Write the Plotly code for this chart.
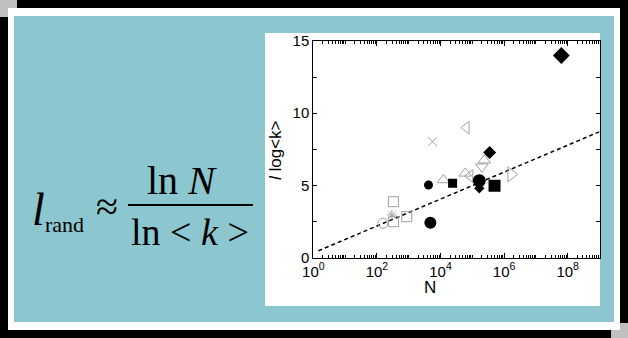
import plotly.graph_objects as go

W, H = 628, 338

# ---------------- data ----------------
line_N = [1.45, 1e9]
line_l = [0.48, 8.72]

blk_diamond_N = [6.3e7, 3.5e5, 1.66e5]
blk_diamond_l = [14.0, 7.29, 4.80]
blk_diamond_s = [13, 10, 8]

blk_circle_N = [4.2e3, 4.8e3, 1.66e5]
blk_circle_l = [5.03, 2.42, 5.33]
blk_circle_s = [9, 12, 13]

blk_square_N = [2.4e4, 5.0e5]
blk_square_l = [5.15, 4.98]
blk_square_s = [9, 12]

gray_series = [
    # (symbol, N list, l list, size)
    ("triangle-left-open", [6.5e4, 8.5e4], [9.0, 5.65], 11),
    ("x-thin-open", [5.6e3], [8.03], 9),
    ("triangle-up-open", [1.23e4, 6.0e4, 2.4e5], [5.38, 5.84, 6.75], 11),
    ("triangle-down-open", [2.0e5], [6.30], 11),
    ("triangle-right-open", [1.66e6], [5.77], 13),
    ("square-open", [331, 871, 331], [3.88, 2.84, 2.49], 10),
    ("asterisk-open", [295], [2.96], 8),
    ("circle-open", [155], [2.38], 10),
]

x_tickvals = [1, 1e2, 1e4, 1e6, 1e8]
x_ticktext = ["10<sup>0</sup>", "10<sup>2</sup>", "10<sup>4</sup>", "10<sup>6</sup>", "10<sup>8</sup>"]
y_tickvals = [0, 2.5, 5, 7.5, 10, 12.5, 15]
y_ticktext = ["0", "", "5", "", "10", "", "15"]

GRAY = "#a0a0a0"
TEAL = "#8cc6ce"


def px(x):
    return x / W


def py(y):
    return 1 - y / H


fig = go.Figure()

fig.add_trace(go.Scatter(x=line_N, y=line_l, mode="lines",
                         line=dict(color="black", width=1.5, dash="4px,3px"),
                         hoverinfo="skip", showlegend=False))

for sym, xs, ys, sz in gray_series:
    fig.add_trace(go.Scatter(x=xs, y=ys, mode="markers", showlegend=False,
                             marker=dict(symbol=sym, size=sz, color=GRAY, opacity=1,
                                         line=dict(color=GRAY, width=1))))

fig.add_trace(go.Scatter(x=blk_square_N, y=blk_square_l, mode="markers", showlegend=False,
                         marker=dict(symbol="square", size=blk_square_s, color="black", opacity=1,
                                     line=dict(width=0))))
fig.add_trace(go.Scatter(x=blk_circle_N, y=blk_circle_l, mode="markers", showlegend=False,
                         marker=dict(symbol="circle", size=blk_circle_s, color="black", opacity=1,
                                     line=dict(width=0))))
fig.add_trace(go.Scatter(x=blk_diamond_N, y=blk_diamond_l, mode="markers", showlegend=False,
                         marker=dict(symbol="diamond", size=blk_diamond_s, color="black", opacity=1,
                                     line=dict(width=0))))

# minor ticks on log axis (all k*10^n except labelled decades)
minor_x = []
for n in range(0, 9):
    for k in range(1, 10):
        v = k * 10 ** n
        if k == 1 and n % 2 == 0:
            continue
        minor_x.append(v)

shapes = [
    dict(type="rect", xref="paper", yref="paper", x0=px(0), x1=px(17), y0=py(17), y1=py(0),
         fillcolor="#c0c0c0", line=dict(width=0), layer="below"),
    dict(type="rect", xref="paper", yref="paper", x0=px(611), x1=px(628), y0=py(338), y1=py(323),
         fillcolor="#c0c0c0", line=dict(width=0), layer="below"),
    dict(type="rect", xref="paper", yref="paper", x0=px(8), x1=px(620), y0=py(330), y1=py(8),
         fillcolor="white", line=dict(width=0), layer="below"),
    dict(type="rect", xref="paper", yref="paper", x0=px(14), x1=px(614), y0=py(322), y1=py(16),
         fillcolor=TEAL, line=dict(width=0), layer="below"),
    dict(type="rect", xref="paper", yref="paper", x0=px(265), x1=px(600), y0=py(306), y1=py(33),
         fillcolor="white", line=dict(width=0), layer="below"),
    dict(type="line", xref="paper", yref="paper", x0=px(128), x1=px(253), y0=py(205), y1=py(205),
         line=dict(color="black", width=2)),
]

SERIF = "Liberation Serif"
SANS = "Liberation Sans"
annotations = [
    dict(text="ln <i>N</i>", x=px(182), y=py(180), xref="paper", yref="paper",
         xanchor="center", yanchor="middle", showarrow=False,
         font=dict(family=SERIF, size=40, color="black")),
    dict(text="ln &lt; <i>k</i> &gt;", x=px(190), y=py(232), xref="paper", yref="paper",
         xanchor="center", yanchor="middle", showarrow=False,
         font=dict(family=SERIF, size=38, color="black")),
    dict(text="<i>l</i>", x=px(38), y=py(210), xref="paper", yref="paper",
         xanchor="center", yanchor="middle", showarrow=False,
         font=dict(family=SERIF, size=46, color="black")),
    dict(text="rand", x=px(64), y=py(224), xref="paper", yref="paper",
         xanchor="center", yanchor="middle", showarrow=False,
         font=dict(family=SERIF, size=22, color="black")),
    dict(text="≈", x=px(107), y=py(206), xref="paper", yref="paper",
         xanchor="center", yanchor="middle", showarrow=False,
         font=dict(family=SERIF, size=40, color="black")),
    dict(text="N", x=px(430), y=py(287), xref="paper", yref="paper",
         xanchor="center", yanchor="middle", showarrow=False,
         font=dict(family=SANS, size=17, color="black")),
    dict(text="<i>l</i> log&lt;k&gt;", x=px(275), y=py(150), xref="paper", yref="paper",
         xanchor="center", yanchor="middle", showarrow=False, textangle=-90,
         font=dict(family=SANS, size=17, color="black")),
]

axis_common = dict(showline=True, linecolor="black", linewidth=1, mirror="allticks",
                   ticks="inside", tickcolor="black", tickwidth=1, showgrid=False,
                   zeroline=False, tickfont=dict(family=SANS, size=15, color="black"))

fig.update_layout(
    width=W, height=H,
    margin=dict(l=0, r=0, t=0, b=0, pad=0, autoexpand=False),
    paper_bgcolor="black",
    plot_bgcolor="white",
    shapes=shapes,
    annotations=annotations,
    xaxis=dict(type="log", range=[0, 9], domain=[px(313.3), px(599.5)], automargin=False,
               tickmode="array", tickvals=x_tickvals, ticktext=x_ticktext, ticklen=5,
               minor=dict(tickmode="array", tickvals=minor_x, ticks="inside", ticklen=2.5,
                          tickcolor="black", tickwidth=1, showgrid=False),
               **axis_common),
    yaxis=dict(range=[0, 15], domain=[py(257.7), py(41)], automargin=False,
               tickmode="array", tickvals=y_tickvals, ticktext=y_ticktext, ticklen=4,
               **axis_common),
)

fig.write_html(
    "out.html",
    post_script=("document.documentElement.style.margin='0';"
                 "document.documentElement.style.padding='0';"
                 "document.body.style.margin='0';document.body.style.padding='0';"),
)
